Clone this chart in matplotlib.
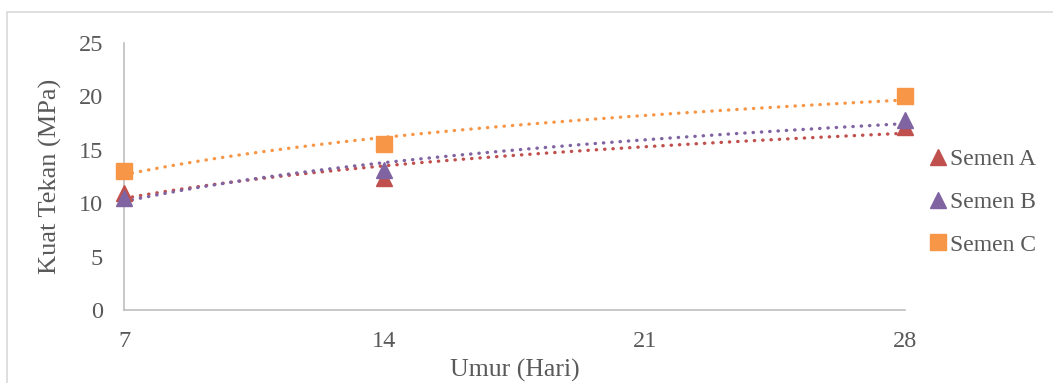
import numpy as np
from matplotlib import pyplot as plt
from matplotlib.patches import Rectangle
from matplotlib.lines import Line2D

umur = [7, 14, 28]
semen_a = [11.0, 12.4, 17.1]
semen_b = [10.5, 13.1, 17.8]
semen_c = [13.0, 15.5, 20.0]

series = [
    ("Semen A", semen_a, "#C0504D", "^"),
    ("Semen B", semen_b, "#8064A2", "^"),
    ("Semen C", semen_c, "#F79646", "s"),
]

plt.rcParams['font.family'] = ['Liberation Serif', 'DejaVu Serif']
text_color = "#595959"

fig = plt.figure(figsize=(10.53, 3.83), dpi=100)
ax = fig.add_axes([124 / 1053, 73 / 383, (905 - 124) / 1053, (310 - 43) / 383])

# chart frame
fig.patches.append(Rectangle((7 / 1053, -0.1), 1.1, 1 - 12 / 383 + 0.1,
                             transform=fig.transFigure, fill=False,
                             edgecolor="#D9D9D9", linewidth=1.2))

x_fit = np.linspace(7, 28, 200)
handles = []
for name, vals, color, marker in series:
    # logarithmic trendline like excel
    k, c = np.polyfit(np.log(umur), vals, 1)
    ax.plot(x_fit, k * np.log(x_fit) + c, color=color, linewidth=2.4,
            linestyle=(0, (0.1, 2.4)), dash_capstyle='round', zorder=2)
    ax.plot(umur, vals, linestyle='none', marker=marker, markersize=11,
            color=color, zorder=3, clip_on=False)
    handles.append(Line2D([], [], linestyle='none', marker=marker,
                          markersize=11, color=color, label=name))

ax.set_xlim(7, 28)
ax.set_ylim(0, 25)
ax.set_xticks([7, 14, 21, 28])
ax.set_yticks([0, 5, 10, 15, 20, 25])
for s in ['top', 'right']:
    ax.spines[s].set_visible(False)
for s in ['left', 'bottom']:
    ax.spines[s].set_color("#BFBFBF")
    ax.spines[s].set_linewidth(1.2)
ax.tick_params(length=0, labelsize=17.5, colors=text_color)
ax.tick_params(axis='x', pad=15)
ax.tick_params(axis='y', pad=15)
ax.set_xlabel("Umur (Hari)", fontsize=18.5, color=text_color, labelpad=5)
ax.set_ylabel("Kuat Tekan (MPa)", fontsize=19, color=text_color, labelpad=12)

fig.legend(handles=handles, loc='center left',
           bbox_to_anchor=(917 / 1053, 1 - 202 / 383), frameon=False,
           fontsize=17, labelcolor=text_color, handlelength=0.8,
           handletextpad=0.1, labelspacing=0.9, borderpad=0)

fig.savefig("out.png", dpi=100)
